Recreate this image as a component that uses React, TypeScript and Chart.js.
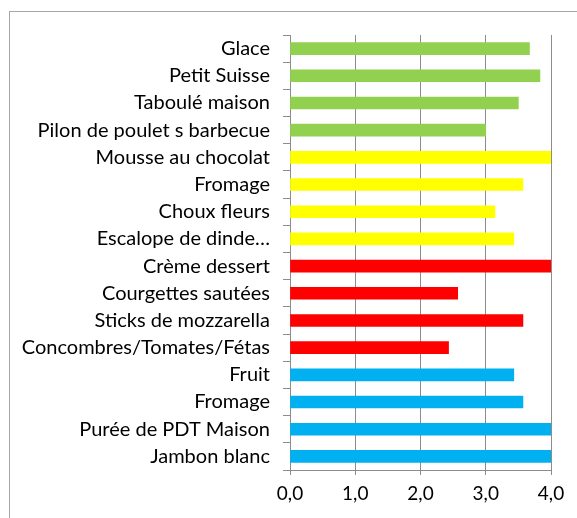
import React, { useEffect, useRef } from "react";
import { Chart, registerables } from "chart.js";

Chart.register(...registerables);

const categories = [
  "Glace",
  "Petit Suisse",
  "Taboulé maison",
  "Pilon de poulet s barbecue",
  "Mousse au chocolat",
  "Fromage",
  "Choux fleurs",
  "Escalope de dinde…",
  "Crème dessert",
  "Courgettes sautées",
  "Sticks de mozzarella",
  "Concombres/Tomates/Fétas",
  "Fruit",
  "Fromage",
  "Purée de PDT Maison",
  "Jambon blanc",
];

const values = [3.67, 3.83, 3.5, 3.0, 4.0, 3.57, 3.14, 3.43, 4.0, 2.57, 3.57, 2.43, 3.43, 3.57, 4.0, 4.0];

const groupColors = [
  "#92D050", "#92D050", "#92D050", "#92D050",
  "#FFFF00", "#FFFF00", "#FFFF00", "#FFFF00",
  "#FF0000", "#FF0000", "#FF0000", "#FF0000",
  "#00B0F0", "#00B0F0", "#00B0F0", "#00B0F0",
];

const xTicks = [0, 1, 2, 3, 4];

const FONT = "Lato, 'Open Sans', sans-serif";

export default function App() {
  const ref = useRef<HTMLCanvasElement | null>(null);

  useEffect(() => {
    if (!ref.current) return;
    const chart = new Chart(ref.current, {
      type: "bar",
      data: {
        labels: categories,
        datasets: [
          {
            data: values,
            backgroundColor: groupColors,
            borderWidth: 0,
            barThickness: 12,
          },
        ],
      },
      options: {
        indexAxis: "y",
        animation: false,
        responsive: false,
        maintainAspectRatio: false,
        layout: { padding: { left: 0, top: 35, right: 26, bottom: 4 } },
        plugins: {
          legend: { display: false },
          tooltip: { enabled: false },
        },
        scales: {
          x: {
            min: 0,
            max: 4,
            afterBuildTicks: (scale: any) => {
              scale.ticks = xTicks.map((v) => ({ value: v }));
            },
            afterFit: (scale: any) => {
              scale.height = 44;
            },
            grid: {
              color: "#8c8c8c",
              lineWidth: 1,
              drawOnChartArea: true,
              drawTicks: true,
              tickLength: 5,
            },
            border: { display: true, color: "#8c8c8c" },
            ticks: {
              color: "#000",
              font: { family: FONT, size: 19 },
              padding: 7,
              maxRotation: 0,
              callback: (v: any) => Number(v).toFixed(1).replace(".", ","),
            },
          },
          y: {
            afterFit: (scale: any) => {
              scale.width = 290;
            },
            grid: {
              color: "#8c8c8c",
              drawOnChartArea: false,
              drawTicks: true,
              tickLength: 7,
              offset: true,
            },
            border: { display: true, color: "#8c8c8c" },
            ticks: {
              color: "#000",
              font: { family: FONT, size: 20 },
              padding: 13,
              autoSkip: false,
            },
          },
        },
      },
    });
    return () => chart.destroy();
  }, []);

  return (
    <div style={{ position: "fixed", left: 0, top: 0, width: 577, height: 518, background: "#fff" }}>
      <div
        style={{
          position: "absolute",
          left: 9,
          top: 11,
          width: 600,
          height: 600,
          border: "1px solid #a6a6a6",
          boxSizing: "border-box",
        }}
      />
      <canvas ref={ref} width={577} height={518} style={{ position: "absolute", left: 0, top: 0 }} />
    </div>
  );
}
